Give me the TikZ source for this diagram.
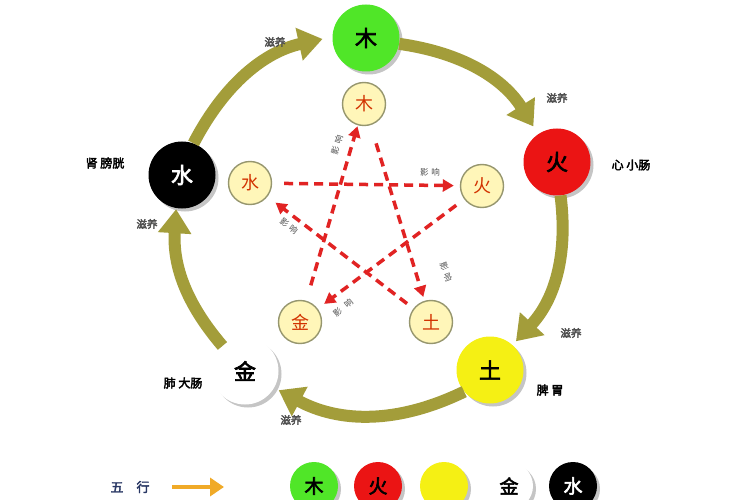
\documentclass[tikz,border=0pt]{standalone}
\usepackage{fontspec}
\newfontfamily\cjk{Noto Sans CJK SC}
\newfontfamily\cjkb{Noto Sans CJK SC}[FakeBold=3]
\usetikzlibrary{arrows.meta,shadows}
\definecolor{olivearrow}{RGB}{163,157,58}
\definecolor{woodgreen}{RGB}{80,230,40}
\definecolor{firered}{RGB}{235,20,20}
\definecolor{earthyellow}{RGB}{245,240,20}
\definecolor{paleyellow}{RGB}{255,246,185}
\definecolor{ringgray}{RGB}{150,150,110}
\definecolor{chartext}{RGB}{210,50,0}
\definecolor{dashred}{RGB}{225,35,35}
\definecolor{labelgray}{RGB}{80,80,80}
\definecolor{navytext}{RGB}{40,55,100}
\definecolor{orangearrow}{RGB}{240,170,40}
\tikzset{
  bigball/.style={circle, minimum size=67pt, inner sep=0pt,
    font=\cjkb\fontsize{22}{22}\selectfont,
    drop shadow={shadow xshift=3pt, shadow yshift=-3pt, opacity=0.45}},
  smallball/.style={circle, minimum size=43pt, inner sep=0pt, draw=ringgray,
    line width=1.4pt, fill=paleyellow, text=chartext,
    font=\cjk\fontsize{18}{18}\selectfont},
  legendball/.style={circle, minimum size=48pt, inner sep=0pt,
    font=\cjkb\fontsize{19}{19}\selectfont,
    drop shadow={shadow xshift=3pt, shadow yshift=-3pt, opacity=0.45}},
  feed/.style={draw=olivearrow, line width=12pt,
    -{Triangle[width=32pt,length=24pt]}},
  restrain/.style={draw=dashred, line width=3.5pt, dash pattern=on 9pt off 6pt,
    -{Triangle[width=12pt,length=11pt]}},
  nourish/.style={text=labelgray, font=\cjkb\fontsize{10.5}{10.5}\selectfont},
  organ/.style={text=black, font=\cjkb\fontsize{12}{12}\selectfont},
  effect/.style={text=labelgray, inner sep=1pt, font=\cjk\fontsize{8.5}{8.5}\selectfont},
}
\begin{document}
\begin{tikzpicture}[x=1pt,y=-1pt]
\useasboundingbox (0,0) rectangle (750,500);
\clip (0,0) rectangle (750,500);
\fill[white] (0,0) rectangle (750,500);

% big circles
\node[bigball, fill=woodgreen] (wood) at (366,38) {木};
\node[bigball, fill=firered] (fire) at (557,162) {火};
\node[bigball, fill=earthyellow] (earth) at (490,370) {土};
\node[bigball, fill=white] (metal) at (245,371) {金};
\node[bigball, fill=black, text=white] (water) at (182,175) {水};

% feeding arcs
\draw[feed, shorten >=10pt] (water.70) to[bend left=25] (wood.178);
\draw[feed, shorten >=9pt] (wood.-10) to[bend left=25] (fire.124);
\draw[feed, shorten >=5pt] (fire.-84) to[bend left=25] (earth.48);
\draw[feed, shorten >=5pt] (earth.-140) to[bend left=27] (metal.-30);
\draw[feed, shorten >=1pt] (metal.132) to[bend left=22] (water.-100);

% nourish labels
\node[nourish] (n1) at (275,42) {滋养};
\node[nourish] (n2) at (557,98) {滋养};
\node[nourish] (n3) at (571,333) {滋养};
\node[nourish] (n4) at (291,420) {滋养};
\node[nourish] (n5) at (147,224) {滋养};

% organ labels
\node[organ] (o1) at (105,163) {肾 膀胱};
\node[organ] (o2) at (631,165) {心 小肠};
\node[organ] (o3) at (550,390) {脾 胃};
\node[organ] (o4) at (183,383) {肺 大肠};

% small circles
\node[smallball] (wood2) at (364,104) {木};
\node[smallball] (water2) at (250,183) {水};
\node[smallball] (fire2) at (482,186) {火};
\node[smallball] (metal2) at (300,322) {金};
\node[smallball] (earth2) at (431,322) {土};

% restraining dashed arrows
\draw[restrain, shorten <=12pt, shorten >=6pt] (water2) -- (fire2);
\draw[restrain, shorten <=10pt, shorten >=8pt] (fire2) -- (metal2);
\draw[restrain, shorten <=8pt, shorten >=10pt] (earth2) -- (water2);
\draw[restrain, shorten <=16pt, shorten >=1pt] (metal2) -- (wood2);
\draw[restrain, shorten <=19pt, shorten >=4pt] (wood2) -- (earth2);

% effect labels
\node[effect, rotate=73] (e1) at (337,145) {影\kern3pt 响};
\node[effect] (e2) at (430,172) {影\kern3pt 响};
\node[effect, rotate=-70] (e3) at (446,272) {影\kern3pt 响};
\node[effect, rotate=40] (e4) at (343,308) {影\kern6pt 响};
\node[effect, rotate=-38] (e5) at (289,226) {影\kern3pt 响};

% legend
\node[text=navytext, font=\cjkb\fontsize{13}{13}\selectfont] (wx) at (130,487) {五\hspace{1em}行};
\coordinate (la) at (172,487);
\coordinate (lb) at (224,487);
\draw[draw=orangearrow, line width=4pt, -{Triangle[width=18pt,length=14pt]}] (la) -- (lb);
\node[legendball, fill=woodgreen] (l1) at (314,486) {木};
\node[legendball, fill=firered] (l2) at (378,486) {火};
\node[legendball, fill=earthyellow] (l3) at (444,486) {};
\node[legendball, fill=white] (l4) at (509,486) {金};
\node[legendball, fill=black, text=white] (l5) at (573,486) {水};
\end{tikzpicture}
\end{document}
